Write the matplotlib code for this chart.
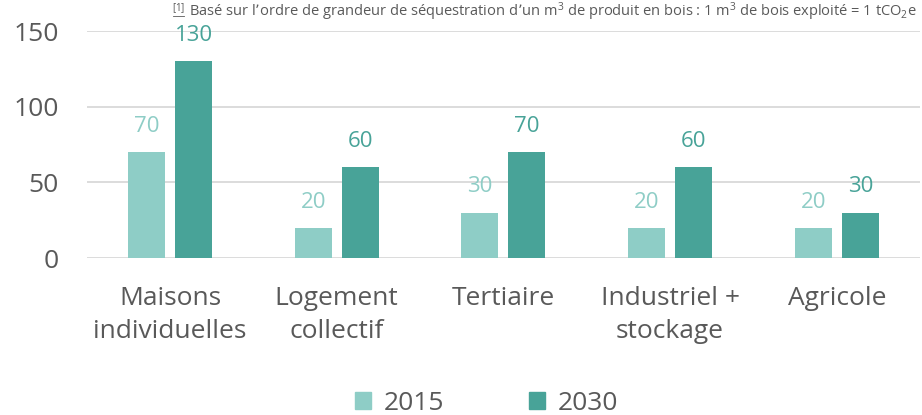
import numpy as np
import matplotlib.pyplot as plt
from matplotlib.patches import Patch

categories = ["Maisons\nindividuelles", "Logement\ncollectif", "Tertiaire",
              "Industriel +\nstockage", "Agricole"]
values_2015 = [70, 20, 30, 20, 20]
values_2030 = [130, 60, 70, 60, 30]
series_names = ["2015", "2030"]
yticks = [0, 50, 100, 150]

kLight = "#8ECDC6"
kDark = "#48A398"
kText = "#595959"

plt.rcParams['font.family'] = ['Open Sans', 'DejaVu Sans']

fig = plt.figure(figsize=(9.22, 4.15), dpi=100)
ax = fig.add_axes([0.094, 0.378, 0.904, 0.547])

x = np.arange(len(categories))
w = 0.222
off = 0.141
b1 = ax.bar(x - off, values_2015, w, color=kLight, zorder=3)
b2 = ax.bar(x + off, values_2030, w, color=kDark, zorder=3)

for bars, vals, col in [(b1, values_2015, kLight), (b2, values_2030, kDark)]:
    for b, v in zip(bars, vals):
        ax.annotate(str(v), (b.get_x() + b.get_width() / 2, v), xytext=(0, 11),
                    textcoords="offset points", ha="center", va="bottom",
                    fontsize=16, color=col)

ax.set_xlim(-0.5, len(categories) - 0.5)
ax.set_ylim(0, 150)
ax.set_yticks(yticks)
ax.set_xticks(x)
ax.set_xticklabels(categories, fontsize=19, color=kText, linespacing=1.4)
ax.tick_params(axis='y', labelsize=19, labelcolor=kText, length=0, pad=20)
ax.tick_params(axis='x', length=0, pad=20)
ax.grid(axis='y', color="#D9D9D9", linewidth=1.3, zorder=0)
for s in ax.spines.values():
    s.set_visible(False)

handles = [Patch(color=kLight), Patch(color=kDark)]
fig.legend(handles, series_names, loc="center", bbox_to_anchor=(0.528, 0.028),
           ncol=2, frameon=False, fontsize=19, labelcolor=kText,
           handlelength=0.6, handleheight=0.6, columnspacing=3.2, handletextpad=0.5)

fig.text(0.187, 0.975, r"$\mathregular{^{[1]}}$", fontsize=10, color=kText, va="center")
fig.lines.append(plt.Line2D([0.188, 0.2], [0.962, 0.962], transform=fig.transFigure,
                            color=kText, linewidth=0.6))
fig.text(0.205, 0.972,
         r"Basé sur l’ordre de grandeur de séquestration d’un m$\mathregular{^3}$ de produit en bois : "
         r"1 m$\mathregular{^3}$ de bois exploité = 1 tCO$\mathregular{_2}$e",
         fontsize=10.5, color=kText, va="center")

fig.savefig("out.png", dpi=100)
